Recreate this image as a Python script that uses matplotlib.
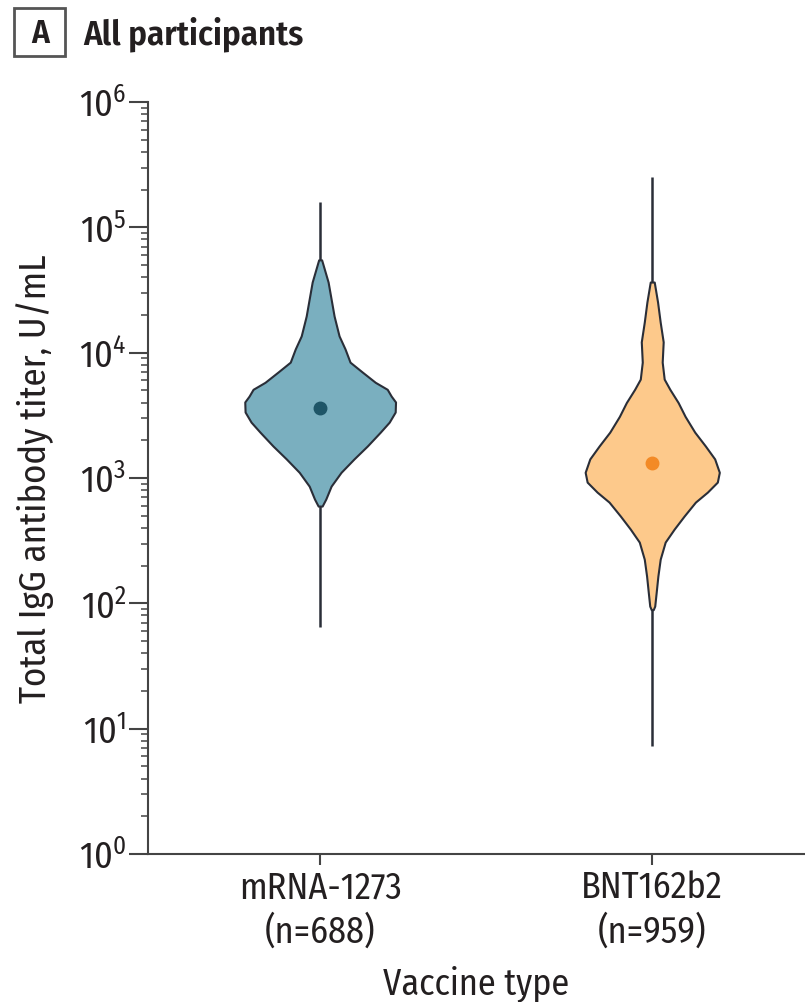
import matplotlib
matplotlib.use("Agg")
import matplotlib.pyplot as plt
from matplotlib import font_manager
from matplotlib.patches import Rectangle
import numpy as np

# ---------------- data ----------------
vaccines = ["mRNA-1273", "BNT162b2"]
n_labels = ["(n=688)", "(n=959)"]
geo_means = [3614, 1315]
titer_min = [65, 7.3]
titer_max = [1.6e5, 2.5e5]

# violin outline profiles: titer (U/mL) and half-width (category units)
mrna_titer = [5.5e4, 3.66e4, 2.68e4, 1.96e4, 1.36e4, 1.07e4, 8.4e3, 7.0e3, 5.8e3, 5.1e3, 4.5e3,
              4.04e3, 3.36e3, 2.79e3, 2.32e3, 1.8e3, 1.42e3, 1.11e3, 861, 679, 597]
mrna_width = [0.0045, 0.024, 0.033, 0.042, 0.057, 0.075, 0.090, 0.127, 0.166, 0.202, 0.214,
              0.227, 0.226, 0.208, 0.181, 0.142, 0.102, 0.063, 0.033, 0.017, 0.006]

bnt_titer = [3.66e4, 2.54e4, 1.75e4, 1.22e4, 8.4e3, 6.15e3, 5.1e3, 4.0e3, 3.1e3, 2.32e3, 1.8e3,
             1.42e3, 1.11e3, 927, 771, 642, 497, 391, 308, 225, 165, 123, 95, 89]
bnt_width = [0.006, 0.016, 0.024, 0.033, 0.030, 0.036, 0.053, 0.078, 0.099, 0.128, 0.160,
             0.188, 0.202, 0.196, 0.166, 0.130, 0.096, 0.066, 0.039, 0.024, 0.017, 0.012, 0.0075, 0.003]

yticks = [1, 10, 100, 1e3, 1e4, 1e5, 1e6]
ytick_labels = [r"$10^{0}$", r"$10^{1}$", r"$10^{2}$", r"$10^{3}$", r"$10^{4}$", r"$10^{5}$", r"$10^{6}$"]

fill_colors = ["#7AAFBF", "#FDC98B"]
dot_colors = ["#1E5567", "#F38A26"]
edge_color = "#2A2E38"
text_color = "#231F20"
axis_color = "#444444"

# ---------------- fonts ----------------
avail = {f.name for f in font_manager.fontManager.ttflist}
main_font = next((f for f in ["Fira Sans Condensed", "PT Sans Narrow", "Roboto Condensed",
                              "Liberation Sans"] if f in avail), "DejaVu Sans")
plt.rcParams["font.family"] = [main_font, "DejaVu Sans"]
plt.rcParams["mathtext.fontset"] = "custom"
plt.rcParams["mathtext.rm"] = main_font
plt.rcParams["mathtext.it"] = main_font
plt.rcParams["mathtext.bf"] = main_font + ":bold"

fig = plt.figure(figsize=(8.05, 10.03), dpi=100)
ax = fig.add_axes([0.184, 0.1476, 0.816, 0.7497])

profiles = [(mrna_titer, mrna_width), (bnt_titer, bnt_width)]
for i, (t, w) in enumerate(profiles):
    t = np.array(t)
    w = np.array(w)
    ax.plot([i, i], [titer_min[i], titer_max[i]], color=edge_color, lw=1.8,
            solid_capstyle="butt", zorder=2)
    ax.fill_betweenx(t, i - w, i + w, facecolor=fill_colors[i], edgecolor=edge_color,
                     lw=1.5, zorder=3)
    ax.plot(i, geo_means[i], "o", ms=9, color=dot_colors[i], zorder=4)

ax.set_yscale("log")
ax.set_ylim(1, 1e6)
ax.set_xlim(-0.518, 1.46)
ax.set_yticks(yticks)
ax.set_yticklabels(ytick_labels)
ax.yaxis.set_minor_locator(matplotlib.ticker.LogLocator(base=10, subs=np.arange(2, 10)))
ax.yaxis.set_minor_formatter(matplotlib.ticker.NullFormatter())
ax.set_xticks([0, 1])
ax.set_xticklabels([f"{v}\n{n}" for v, n in zip(vaccines, n_labels)])

for s in ["top", "right"]:
    ax.spines[s].set_visible(False)
for s in ["left", "bottom"]:
    ax.spines[s].set_linewidth(1.5)
    ax.spines[s].set_color(axis_color)

ax.tick_params(axis="y", which="major", length=14, width=1.5, direction="out",
               labelsize=26, colors=axis_color, labelcolor=text_color, pad=2)
ax.tick_params(axis="y", which="minor", length=5, width=1.1, direction="out", colors=axis_color)
ax.tick_params(axis="x", which="major", length=8, width=1.5, direction="out",
               labelsize=26, colors=axis_color, labelcolor=text_color, pad=3)
for lab in ax.get_xticklabels():
    lab.set_linespacing(1.25)

ax.set_ylabel("Total IgG antibody titer, U/mL", fontsize=26.5, color=text_color)
ax.yaxis.set_label_coords(-0.143, 0.5)
ax.set_xlabel("Vaccine type", fontsize=26, color=text_color)
ax.xaxis.set_label_coords(0.5, -0.146)

# panel title
fig.patches.append(Rectangle((14 / 805, 1 - 57 / 1003), 51 / 805, 48 / 1003,
                             transform=fig.transFigure, fill=False, lw=2, edgecolor="#555555"))
fig.text(40 / 805, 1 - 34 / 1003, "A", ha="center", va="center", fontsize=24,
         fontweight="semibold", color=text_color)
fig.text(83 / 805, 1 - 34 / 1003, "All participants", ha="left", va="center", fontsize=25,
         fontweight="semibold", color=text_color)

fig.savefig("out.png", dpi=100)
